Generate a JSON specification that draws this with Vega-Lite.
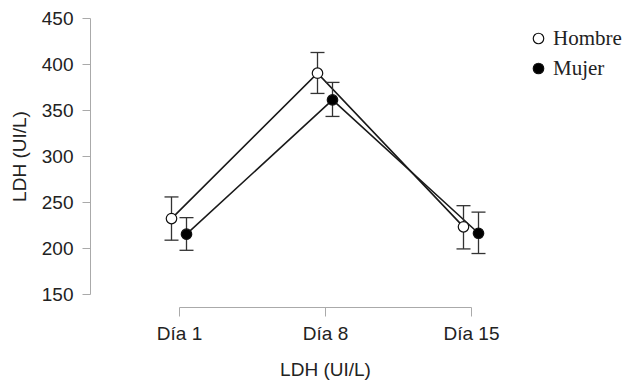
{
  "$schema": "https://vega.github.io/schema/vega-lite/v6.json",
  "width": 292,
  "height": 276,
  "autosize": "none",
  "padding": {"left": 179, "top": 18, "right": 159, "bottom": 87},
  "background": "white",
  "config": {"view": {"stroke": null}, "font": "Liberation Sans"},
  "data": {
    "values": [
      {"dia": "Día 1", "sexo": "Hombre", "media": 232, "inf": 208.5, "sup": 255.5},
      {"dia": "Día 8", "sexo": "Hombre", "media": 390, "inf": 368, "sup": 412.5},
      {"dia": "Día 15", "sexo": "Hombre", "media": 223, "inf": 199, "sup": 246},
      {"dia": "Día 1", "sexo": "Mujer", "media": 215, "inf": 197.5, "sup": 233},
      {"dia": "Día 8", "sexo": "Mujer", "media": 361, "inf": 343, "sup": 380},
      {"dia": "Día 15", "sexo": "Mujer", "media": 216, "inf": 194, "sup": 239}
    ]
  },
  "encoding": {
    "x": {
      "field": "dia",
      "type": "ordinal",
      "sort": ["Día 1", "Día 8", "Día 15"],
      "scale": {"type": "point", "padding": 0},
      "axis": {
        "title": "LDH (UI/L)",
        "offset": 13,
        "labelAngle": 0,
        "domainColor": "#aaaaaa",
        "tickColor": "#aaaaaa",
        "tickSize": 9,
        "labelPadding": 8,
        "labelFontSize": 19,
        "labelColor": "#222222",
        "titleFontSize": 19,
        "titleFontWeight": "normal",
        "titleColor": "#222222",
        "titlePadding": 17,
        "grid": false
      }
    },
    "xOffset": {
      "field": "sexo",
      "type": "nominal",
      "sort": ["Hombre", "Mujer"],
      "scale": {"type": "point", "range": [-7.5, 7.5], "padding": 0}
    }
  },
  "layer": [
    {
      "mark": {"type": "line", "color": "#1a1a1a", "strokeWidth": 1.6},
      "encoding": {
        "y": {
          "field": "media",
          "type": "quantitative",
          "scale": {"domain": [150, 450], "nice": false, "zero": false},
          "axis": {
            "title": "LDH (UI/L)",
            "values": [150, 200, 250, 300, 350, 400, 450],
            "offset": 89,
            "domainColor": "#aaaaaa",
            "tickColor": "#aaaaaa",
            "tickSize": 8,
            "labelPadding": 9,
            "labelFontSize": 19,
            "labelColor": "#222222",
            "titleFontSize": 19,
            "titleFontWeight": "normal",
            "titleColor": "#222222",
            "titlePadding": 12,
            "grid": false
          }
        },
        "detail": {"field": "sexo"}
      }
    },
    {
      "mark": {"type": "rule", "color": "#333333", "strokeWidth": 1.3},
      "encoding": {
        "y": {"field": "inf", "type": "quantitative"},
        "y2": {"field": "sup"}
      }
    },
    {
      "mark": {"type": "tick", "color": "#333333", "size": 14, "thickness": 1.3, "opacity": 1},
      "encoding": {"y": {"field": "inf", "type": "quantitative"}}
    },
    {
      "mark": {"type": "tick", "color": "#333333", "size": 14, "thickness": 1.3, "opacity": 1},
      "encoding": {"y": {"field": "sup", "type": "quantitative"}}
    },
    {
      "mark": {"type": "point", "shape": "circle", "filled": true, "size": 110, "stroke": "#111111", "strokeWidth": 1.2, "opacity": 1},
      "encoding": {
        "y": {"field": "media", "type": "quantitative"},
        "fill": {
          "field": "sexo",
          "type": "nominal",
          "scale": {"domain": ["Hombre", "Mujer"], "range": ["white", "black"]},
          "legend": {
            "title": null,
            "orient": "none",
            "legendX": 349,
            "legendY": 10,
            "symbolType": "circle",
            "symbolSize": 110,
            "symbolStrokeColor": "#111111",
            "symbolStrokeWidth": 1.2,
            "labelFont": "Liberation Serif",
            "labelFontSize": 21,
            "labelColor": "#222222",
            "labelOffset": 4,
            "rowPadding": 8
          }
        }
      }
    }
  ]
}
